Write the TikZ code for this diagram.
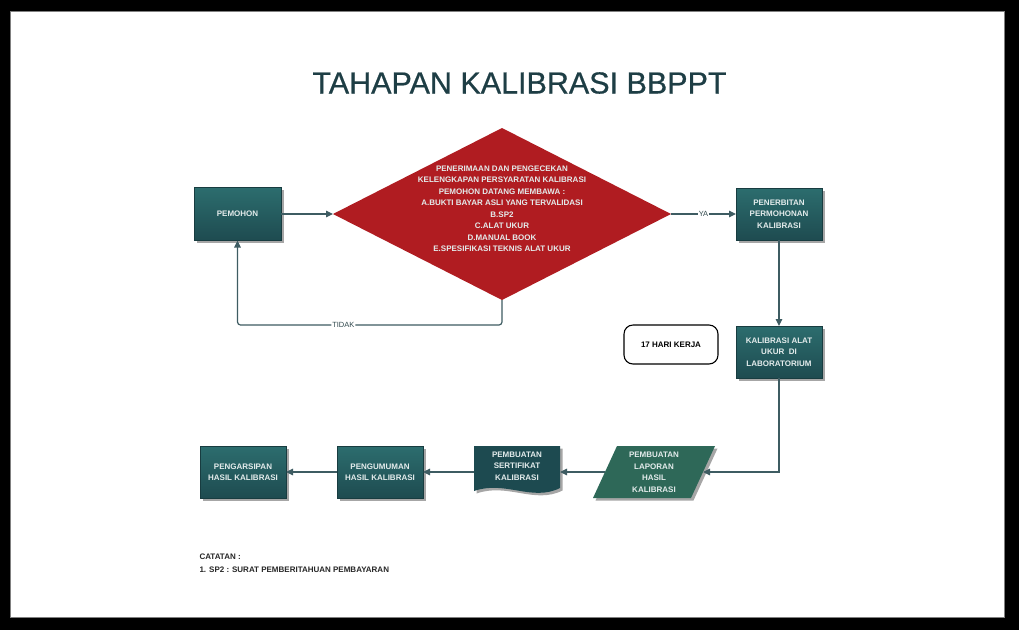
\documentclass[tikz,border=0pt]{standalone}
\usepackage{fontspec}
\setmainfont{Liberation Sans}
\newfontfamily\titlefont[FakeBold=0.6]{Liberation Sans}
\usetikzlibrary{arrows.meta,shapes.geometric,shadows,calc}
\definecolor{teal1}{HTML}{2C6D6E}
\definecolor{teal2}{HTML}{1E4B50}
\definecolor{docc}{HTML}{1D4A50}
\definecolor{parac}{HTML}{2E6858}
\definecolor{redd}{HTML}{B01C21}
\definecolor{linec}{HTML}{3E5C62}
\definecolor{titlec}{HTML}{1E3E45}
\definecolor{boxtext}{HTML}{E4ECEC}
\begin{document}
\begin{tikzpicture}[x=1pt,y=-1pt,
  shd/.style={drop shadow={shadow xshift=2.5pt,shadow yshift=-2.5pt,opacity=0.35,fill=black}},
  boxfont/.style={font=\fontsize{8}{11.5}\selectfont\bfseries},
  box/.style={rectangle, minimum width=86pt, minimum height=52pt, top color=teal1, bottom color=teal2,
    draw=teal2!80!black, line width=0.6pt, shd, text=boxtext, boxfont, align=center, inner sep=1pt, outer sep=0pt},
  txt/.style={text=boxtext, boxfont, align=center, inner sep=0pt},
  arr/.style={draw=linec, line width=1.2pt, -{Triangle[length=7pt,width=6.5pt]}},
  lbl/.style={fill=white, text=linec!80!black, font=\fontsize{7.5}{9}\selectfont, inner sep=1pt}
]
\useasboundingbox (0,0) rectangle (1019,630);
% frame
\fill[black] (0,0) rectangle (1019,630);
\fill[white] (10,11) rectangle (1004,617);
\draw[gray, line width=0.8pt] (10,11) rectangle (1004,617);

% title
\node[font=\fontsize{30.5}{36}\titlefont, text=titlec] (title) at (519.5,83) {TAHAPAN KALIBRASI BBPPT};

% nodes
\node[box, minimum width=87pt, minimum height=53pt] (pem) at (237.5,214) {PEMOHON};
\node[diamond, fill=redd, minimum width=338pt, minimum height=172pt, inner sep=0pt, outer sep=0pt] (dia) at (502,214) {};
\node[txt] (diatext) at (502,208.5) {PENERIMAAN DAN PENGECEKAN\\KELENGKAPAN PERSYARATAN KALIBRASI\\PEMOHON DATANG MEMBAWA :\\A.BUKTI BAYAR ASLI YANG TERVALIDASI\\B.SP2\\C.ALAT UKUR\\D.MANUAL BOOK\\E.SPESIFIKASI TEKNIS ALAT UKUR};
\node[box] (pen) at (779,214) {PENERBITAN\\PERMOHONAN\\KALIBRASI};
\node[box] (kal) at (779,352) {KALIBRASI ALAT\\UKUR\ \ DI\\LABORATORIUM};
\node[draw=black, line width=1.1pt, rounded corners=9pt, fill=white, minimum width=94pt, minimum height=39pt,
  font=\fontsize{8}{10}\selectfont\bfseries] (hari) at (671,344.5) {17 HARI KERJA};

% parallelogram
\path[fill=parac, shd] (617,446) -- (715,446) -- (691,498) -- (593,498) -- cycle;
\coordinate (lapE) at (703,472);
\coordinate (lapW) at (605,472);
\node[txt] (lap) at (654,472.5) {PEMBUATAN\\LAPORAN\\HASIL\\KALIBRASI};

% document
\path[fill=docc, shd] (474,446) -- (560,446) -- (560,488) .. controls (532,502) and (505,480) .. (474,491) -- cycle;
\coordinate (sertE) at (560,472);
\coordinate (sertW) at (474,472);
\node[txt] (sert) at (517,466) {PEMBUATAN\\SERTIFIKAT\\KALIBRASI};

\node[box] (peng) at (380,472) {PENGUMUMAN\\HASIL KALIBRASI};
\node[box] (arsip) at (243,472) {PENGARSIPAN\\HASIL KALIBRASI};

% connectors
\draw[arr] (pem.east) -- (dia.west);
\draw[arr] (dia.east) -- node[lbl] {YA} (pen.west);
\draw[arr, rounded corners=3pt] (dia.south) -- ++(0,25) -| node[lbl, pos=0.3] {TIDAK} (pem.south);
\draw[arr] (pen.south) -- (kal.north);
\draw[arr] (kal.south) |- (lapE);
\draw[arr] (lapW) -- (sertE);
\draw[arr] (sertW) -- (peng.east);
\draw[arr] (peng.west) -- (arsip.east);

% note
\node[anchor=west, align=left, text=black!85, font=\fontsize{8}{13}\selectfont\bfseries] (cat) at (196,563.5)
  {CATATAN :\\1. SP2 : SURAT PEMBERITAHUAN PEMBAYARAN};
\end{tikzpicture}
\end{document}
